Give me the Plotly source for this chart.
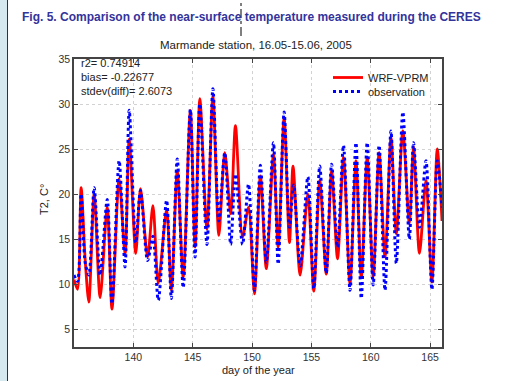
import plotly.graph_objects as go

# ---- data (day of year, temperature °C) ----
model_day = [135.0, 135.3, 135.6, 135.95, 136.25, 136.7, 137.2, 137.8, 138.2, 138.8,
             139.3, 139.65, 140.2, 140.6, 141.2, 141.65, 142.1, 142.8, 143.2, 143.7,
             144.2, 144.8, 145.2, 145.6, 146.2, 146.7, 147.2, 147.7, 148.2, 148.6,
             149.2, 149.7, 150.2, 150.7, 151.2, 151.8, 152.2, 152.7, 153.15, 153.45,
             154.05, 154.7, 155.2, 155.7, 156.25, 156.7, 157.2, 157.7, 158.25, 158.75,
             159.2, 159.7, 160.2, 160.7, 161.2, 161.7, 162.15, 162.7, 163.25, 163.6,
             164.1, 164.65, 165.15, 165.6, 166.0]
model_t2 = [10.5, 9.4, 20.7, 12.5, 8.0, 20.0, 8.5, 18.5, 7.2, 21.7,
            13.3, 26.1, 13.4, 20.6, 13.0, 18.7, 10.1, 18.3, 9.3, 22.6,
            10.7, 29.3, 14.1, 30.6, 16.1, 30.9, 15.4, 24.6, 17.8, 27.6,
            15.2, 18.5, 8.9, 22.0, 11.7, 24.4, 14.1, 28.5, 14.6, 23.1,
            11.0, 20.0, 9.2, 21.5, 11.1, 22.6, 12.8, 24.1, 10.0, 23.7,
            10.7, 24.1, 10.8, 24.6, 13.0, 26.3, 15.6, 27.0, 16.7, 25.2,
            13.4, 21.5, 10.2, 25.0, 17.0]

obs_day = [135.0, 135.3, 135.6, 135.95, 136.25, 136.7, 137.2, 137.8, 138.2, 138.8,
           139.3, 139.65, 140.2, 140.6, 141.2, 141.65, 142.1, 142.8, 143.2, 143.7,
           144.2, 144.8, 145.2, 145.6, 146.2, 146.7, 147.2, 147.7, 148.2, 148.6,
           149.2, 149.7, 150.2, 150.7, 151.2, 151.8, 152.2, 152.7, 153.15, 153.5,
           154.05, 154.7, 155.2, 155.7, 156.25, 156.7, 157.2, 157.7, 158.25, 158.75,
           159.2, 159.7, 160.2, 160.7, 161.2, 161.7, 162.15, 162.7, 163.25, 163.6,
           164.1, 164.65, 165.15, 165.6, 166.0]
obs_t2 = [11.0, 10.3, 20.0, 12.3, 11.0, 20.7, 11.0, 19.4, 7.8, 23.7,
          11.9, 29.3, 14.6, 20.4, 12.6, 15.3, 8.2, 19.3, 8.4, 23.9,
          9.6, 29.4, 13.0, 30.0, 14.4, 31.7, 17.0, 24.6, 14.4, 22.2,
          14.4, 21.1, 9.3, 23.2, 12.4, 25.7, 12.2, 29.1, 16.3, 21.0,
          12.0, 21.9, 9.5, 23.1, 11.2, 23.3, 14.1, 25.4, 9.3, 25.7,
          8.4, 25.7, 9.9, 25.4, 9.3, 27.0, 12.3, 29.1, 15.0, 25.7,
          16.3, 23.7, 9.4, 23.7, 18.5]

series_names = ["WRF-VPRM", "observation"]
stats_lines = ["r2= 0.74914", "bias= -0.22677", "stdev(diff)= 2.6073"]
x_ticks = [140, 145, 150, 155, 160, 165]
y_ticks = [5, 10, 15, 20, 25, 30, 35]

fig_title = "Fig. 5. Comparison of the near-surface temperature measured during the CERES"
sub_title = "Marmande station, 16.05-15.06, 2005"
x_label = "day of the year"
y_label = "T2, C°"

# ---- layout geometry (pixels) ----
W, H = 514, 381
L, R, T, B = 74, 72, 59, 34
PW, PH = W - L - R, H - T - B


def px(x):
    return (x - L) / PW


def py(y):
    return 1 - (y - T) / PH


FONT = "Liberation Sans, Arial, sans-serif"

fig = go.Figure()
fig.add_trace(go.Scatter(x=model_day, y=model_t2, name=series_names[0], mode="lines",
                         legend="legend",
                         line=dict(color="#ff0000", width=2.8, shape="spline", smoothing=0.8)))
fig.add_trace(go.Scatter(x=obs_day, y=obs_t2, name=series_names[1], mode="lines",
                         legend="legend2",
                         line=dict(color="#0000ff", width=3, dash="dot", shape="spline", smoothing=0.8)))

axis_common = dict(showline=True, linecolor="#444444", linewidth=1.5, mirror="ticks",
                   ticks="inside", ticklen=4, tickcolor="#444444", tickwidth=1,
                   showgrid=True, gridcolor="#d2d2d2", griddash="dot", gridwidth=1,
                   zeroline=False, tickfont=dict(family=FONT, size=10.5, color="#333333"))

fig.update_xaxes(range=[135, 166], tickvals=x_ticks, **axis_common)
fig.update_yaxes(range=[3, 35], tickvals=y_ticks, **axis_common)

P = dict(xref="paper", yref="paper", showarrow=False)
annotations = [
    dict(text="<b>" + fig_title + "</b>", x=px(20), y=py(17), xanchor="left", yanchor="middle",
         font=dict(family=FONT, size=12, color="#33339c"), **P),
    dict(text=sub_title, x=px(256), y=py(45), xanchor="center", yanchor="middle",
         font=dict(family=FONT, size=11.5, color="#222222"), **P),
    dict(text=x_label, x=px(258), y=py(370), xanchor="center", yanchor="middle",
         font=dict(family=FONT, size=11, color="#222222"), **P),
    dict(text=y_label, x=px(44), y=py(200), xanchor="center", yanchor="middle", textangle=-90,
         font=dict(family=FONT, size=11, color="#222222"), **P),
]
for i, s in enumerate(stats_lines):
    annotations.append(dict(text=s, x=px(79), y=py(63 + 14 * i), xanchor="left", yanchor="middle",
                            font=dict(family=FONT, size=11, color="#222222"), **P))

shapes = [
    dict(type="rect", xref="paper", yref="paper", x0=px(0), x1=px(7), y0=py(H), y1=py(0),
         fillcolor="#d6e9ee", line=dict(width=0), layer="below"),
    dict(type="line", xref="paper", yref="paper", x0=px(7.5), x1=px(7.5), y0=py(H), y1=py(0),
         line=dict(color="#333333", width=1)),
    dict(type="line", xref="paper", yref="paper", x0=px(241), x1=px(241), y0=py(36), y1=py(2),
         line=dict(color="#000000", width=1, dash="dashdot")),
]

legend_common = dict(xanchor="left", yanchor="top", bgcolor="rgba(0,0,0,0)",
                     font=dict(family=FONT, size=11, color="#222222"), tracegroupgap=0,
                     itemwidth=30)

fig.update_layout(
    width=W, height=H, margin=dict(l=L, r=R, t=T, b=B),
    paper_bgcolor="white", plot_bgcolor="white",
    showlegend=True,
    legend=dict(x=px(328), y=py(63), **legend_common),
    legend2=dict(x=px(328), y=py(77), **legend_common),
    annotations=annotations, shapes=shapes,
)

fig.write_html("out.html")
